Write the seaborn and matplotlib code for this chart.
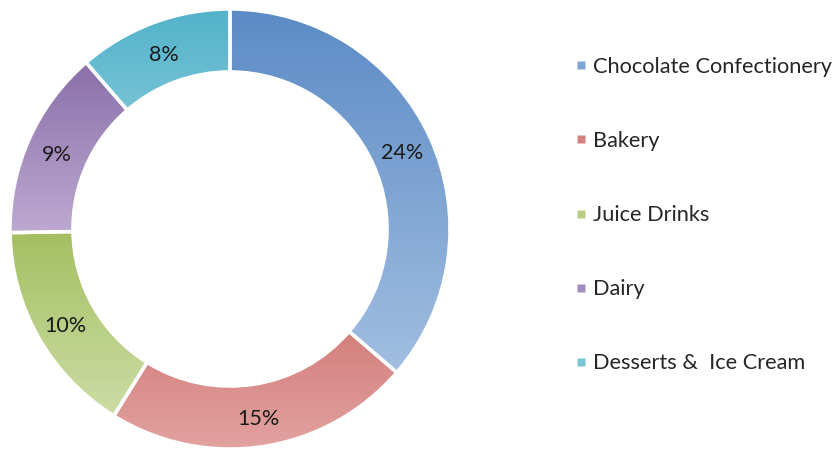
import numpy as np
import seaborn as sns
import matplotlib
matplotlib.use("Agg")
import matplotlib.pyplot as plt
import matplotlib.colors as colors
from matplotlib.lines import Line2D

categories = ["Chocolate Confectionery", "Bakery", "Juice Drinks", "Dairy", "Desserts &  Ice Cream"]
# slice sizes (labels are rounded shares)
shares = [24.0, 14.9, 10.5, 9.2, 7.5]
labels = ["24%", "15%", "10%", "9%", "8%"]

# top / bottom colours of each slice gradient
top_colors = ["#5b8bc5", "#c7605c", "#a3bf60", "#8a6fa9", "#52b2ca"]
bottom_colors = ["#a2bee1", "#e2a4a2", "#cddda6", "#bdaad1", "#a0d6e3"]

sns.set_theme(style="white")
plt.rcParams['font.family'] = ['Lato', 'DejaVu Sans']

fig = plt.figure(figsize=(8.35, 4.49), dpi=100)
ax = fig.add_axes([10 / 835, 0, 440 / 835, 440 / 449])

wedges, _ = ax.pie(shares, startangle=90, counterclock=False, radius=1.0,
                   wedgeprops=dict(width=0.286, edgecolor="white", linewidth=2.5))

for w, c0, c1 in zip(wedges, top_colors, bottom_colors):
    verts = w.get_path().vertices
    x0, x1 = verts[:, 0].min(), verts[:, 0].max()
    y0, y1 = verts[:, 1].min(), verts[:, 1].max()
    cmap = colors.LinearSegmentedColormap.from_list("g", [c1, c0])
    grad = np.linspace(0, 1, 256).reshape(-1, 1)
    im = ax.imshow(grad, cmap=cmap, origin="lower", extent=[x0, x1, y0, y1],
                   aspect="auto", zorder=1, interpolation="bilinear")
    im.set_clip_path(w)
    w.set_facecolor("none")
    w.set_zorder(2)

# percentage labels in the middle of the ring
total = sum(shares)
start = 90.0
for s, lab in zip(shares, labels):
    mid = np.deg2rad(start - s / total * 180)
    r = 0.86
    ax.text(r * np.cos(mid), r * np.sin(mid) - 0.015, lab, ha="center", va="center",
            fontsize=15.5, color="#1a1a1a", zorder=3)
    start -= s / total * 360

ax.set_xlim(-1.0, 1.0)
ax.set_ylim(-1.0, 1.0)
ax.set_aspect("equal")
ax.axis("off")

handles = [Line2D([], [], marker="s", linestyle="none", markersize=5.5,
                  markerfacecolor=colors.to_hex(np.mean([colors.to_rgb(a), colors.to_rgb(b)], axis=0)),
                  markeredgecolor="none")
           for a, b in zip(top_colors, bottom_colors)]
fig.legend(handles, categories, loc="upper left", bbox_to_anchor=(574 / 835, 1 - 57 / 449),
           frameon=False, fontsize=15.7, labelspacing=2.48, handlelength=0.6,
           handletextpad=0.28, borderpad=0, borderaxespad=0, labelcolor="#262626")

fig.savefig("out.png", dpi=100)
